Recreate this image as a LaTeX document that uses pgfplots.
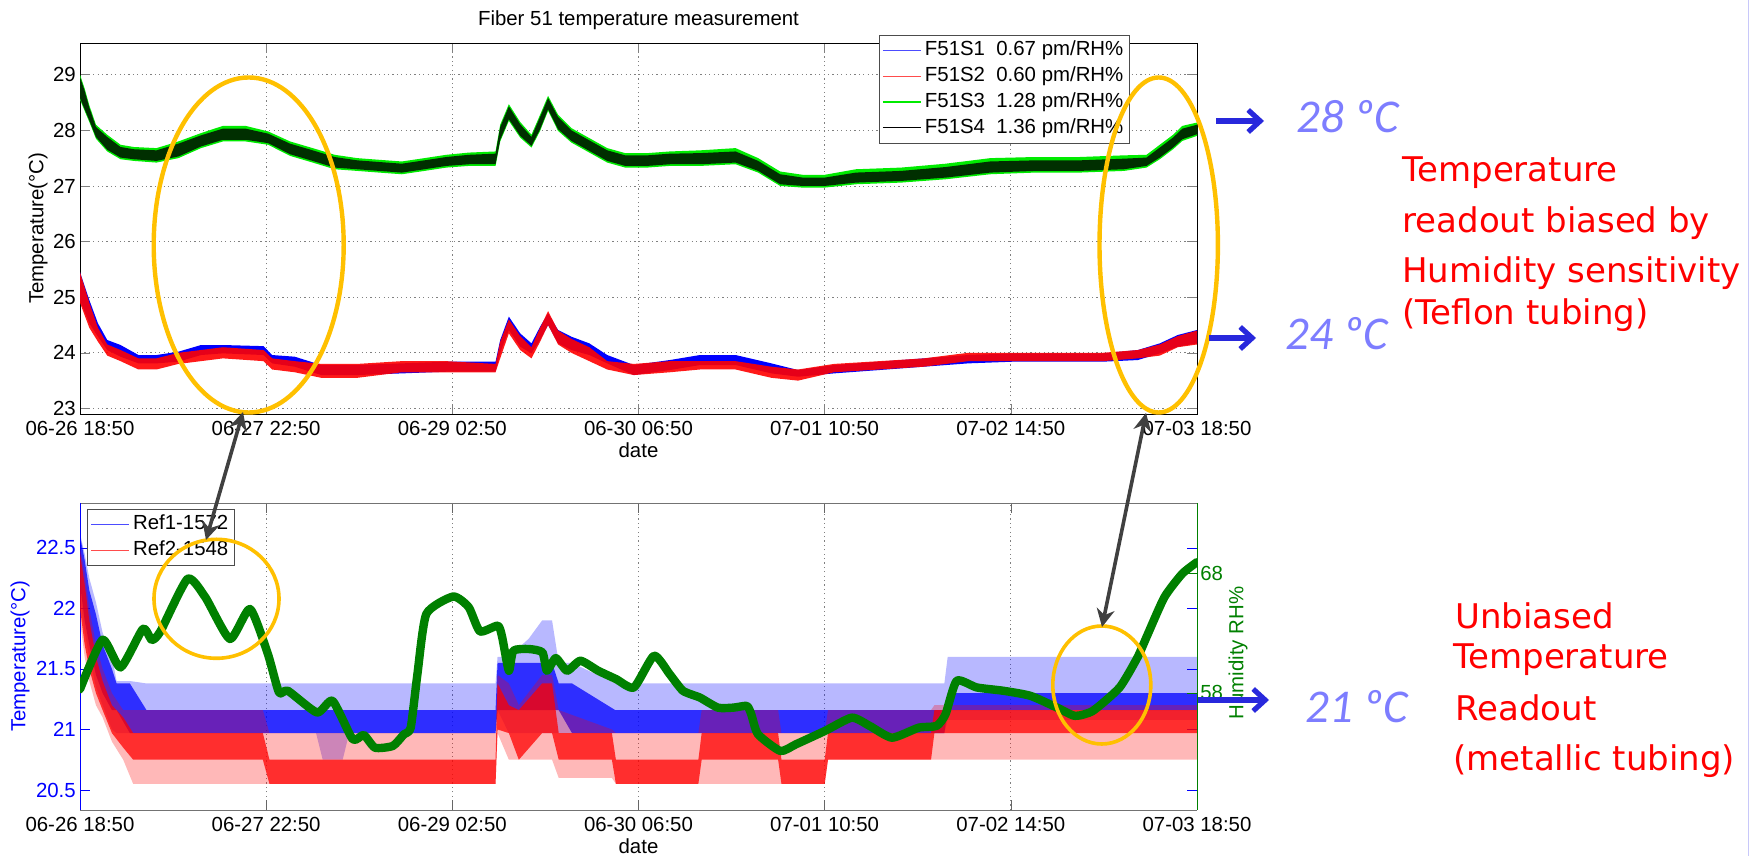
\documentclass[border=0pt]{standalone}
\usepackage{fontspec}
\setmainfont{Liberation Sans}
\newfontfamily\notefont{DejaVu Sans}
\newfontfamily\valfont{Carlito}
\usepackage{pgfplots}
\usepgfplotslibrary{fillbetween}
\usetikzlibrary{arrows.meta}
\pgfplotsset{compat=1.18}

\definecolor{mlgreen}{RGB}{0,128,0}
\definecolor{mlbrightgreen}{RGB}{0,235,0}
\definecolor{ringgold}{RGB}{255,192,0}
\definecolor{arrowgray}{RGB}{64,64,64}
\definecolor{notered}{RGB}{255,0,0}
\definecolor{valblue}{RGB}{125,125,255}
\definecolor{arrowblue}{RGB}{40,40,220}
\definecolor{edgelav}{RGB}{200,200,250}

\newcommand\mlfont{\fontsize{10.2}{12}\selectfont}
\newcommand\notesize{\notefont\fontsize{17}{20}\selectfont}
\newcommand\valsize{\valfont\itshape\fontsize{23.5}{28}\selectfont}

% red note line
\newcommand\notetext[3]{%
  \node[anchor=base west, inner sep=0pt, text=notered, font=\notesize] at (#1,#2) {#3};}

\tikzset{
  mllegend/.style={
    font=\mlfont, draw=black!70, fill=white, inner xsep=1.5pt, inner ysep=1.1pt,
    nodes={inner sep=1.6pt, text height=7.5pt, text depth=2.2pt},
  },
}

\pgfplotsset{
  every axis title shift=0pt,
  mlaxis/.style={
    scale only axis, width=558.5pt,
    xmin=0, xmax=168,
    xtick={0,28,56,84,112,140,168},
    xticklabels={06-26 18:50,06-27 22:50,06-29 02:50,06-30 06:50,07-01 10:50,07-02 14:50,07-03 18:50},
    tick align=inside, major tick length=5pt,
    tick label style={font=\mlfont},
    label style={font=\mlfont},
    /pgf/number format/assume math mode=true,
    yticklabel style={xshift=1.4pt},
    grid style={black!50, line width=0.4pt, dash pattern=on 0.6pt off 1.6pt},
    legend cell align=left,
    legend image post style={xscale=1.12},
  },
}

% sensor readings on the Teflon-tubed fibre: envelope of each trace (hours since 06-26 18:50)
\pgfplotstableread{
t     lo     hi
0.0   24.95  25.45
1.4   24.53  24.95
2.7   24.29  24.53
4.1   24.05  24.23
6.1   23.93  24.14
8.8   23.81  23.96
11.5  23.81  23.96
14.8  23.84  24.02
18.2  23.96  24.14
21.5  23.99  24.14
27.6  23.96  24.12
28.9  23.81  23.96
32.3  23.75  23.93
36.3  23.60  23.78
41.7  23.60  23.78
48.4  23.63  23.81
55.1  23.66  23.84
62.5  23.66  23.84
63.2  24.00  24.23
64.5  24.41  24.65
66.2  24.11  24.35
67.9  23.99  24.17
69.2  24.23  24.47
70.4  24.50  24.71
71.9  24.17  24.41
73.9  24.05  24.29
76.6  23.96  24.17
79.3  23.81  23.96
83.3  23.60  23.78
88.7  23.69  23.87
93.25 23.78  23.96
98.6  23.78  23.96
104.0 23.63  23.81
108.0 23.57  23.69
113.4 23.63  23.78
120.2 23.69  23.84
126.9 23.75  23.90
133.6 23.81  23.96
140.3 23.84  23.99
147.0 23.84  23.99
153.8 23.84  23.99
159.1 23.87  24.05
162.4 23.99  24.17
165.1 24.11  24.32
168.0 24.17  24.41
}\sOne

\pgfplotstableread{
t     lo     hi
0.0   24.90  25.45
1.4   24.45  24.90
2.7   24.20  24.45
4.1   23.95  24.15
6.1   23.85  24.05
8.8   23.70  23.90
11.5  23.70  23.90
14.8  23.80  24.00
18.2  23.85  24.05
21.5  23.90  24.10
27.6  23.85  24.05
28.9  23.70  23.90
32.3  23.65  23.85
36.3  23.55  23.80
41.7  23.55  23.80
48.4  23.65  23.85
55.1  23.65  23.85
62.5  23.65  23.80
63.2  23.90  24.20
64.5  24.35  24.60
66.2  24.05  24.30
67.9  23.90  24.10
69.2  24.20  24.45
70.4  24.50  24.75
71.9  24.15  24.40
73.9  24.00  24.25
76.6  23.85  24.10
79.3  23.70  23.85
83.3  23.60  23.80
88.7  23.65  23.85
93.25 23.70  23.85
98.6  23.70  23.85
104.0 23.55  23.75
108.0 23.50  23.70
113.4 23.65  23.80
120.2 23.70  23.85
126.9 23.75  23.90
133.6 23.85  24.00
140.3 23.85  24.00
147.0 23.85  24.00
153.8 23.85  24.00
159.1 23.90  24.05
162.4 23.95  24.15
165.1 24.10  24.30
168.0 24.15  24.40
}\sTwo

% S3 (green) and S4 (black) envelopes
\pgfplotstableread{
t     glo    ghi    klo    khi
0.0   28.55  29.00  28.58  28.96
0.7   28.35  28.75  28.38  28.71
1.4   28.15  28.45  28.18  28.41
2.4   27.85  28.10  27.88  28.06
4.1   27.62  27.92  27.65  27.88
6.1   27.48  27.74  27.51  27.70
8.1   27.45  27.70  27.48  27.66
11.5  27.42  27.68  27.45  27.64
14.8  27.50  27.80  27.53  27.76
18.2  27.68  27.95  27.71  27.91
21.5  27.80  28.08  27.83  28.03
24.9  27.80  28.08  27.83  28.03
28.3  27.74  27.98  27.77  27.94
31.6  27.54  27.80  27.57  27.76
35.0  27.42  27.68  27.45  27.64
38.3  27.30  27.56  27.33  27.52
41.7  27.27  27.50  27.30  27.46
45.0  27.24  27.47  27.27  27.43
48.4  27.21  27.44  27.24  27.40
51.8  27.27  27.50  27.30  27.46
55.1  27.33  27.56  27.36  27.52
58.5  27.36  27.60  27.39  27.56
62.5  27.36  27.62  27.39  27.58
63.2  27.80  28.10  27.83  28.06
64.5  28.17  28.47  28.20  28.43
66.2  27.87  28.15  27.90  28.11
67.9  27.69  27.92  27.72  27.88
69.2  27.99  28.28  28.02  28.24
70.4  28.35  28.62  28.38  28.58
71.9  27.99  28.28  28.02  28.24
73.9  27.78  28.04  27.81  28.00
76.6  27.60  27.86  27.63  27.82
79.3  27.42  27.68  27.45  27.64
82.0  27.33  27.59  27.36  27.55
85.3  27.33  27.59  27.36  27.55
88.7  27.36  27.62  27.39  27.58
93.25 27.36  27.64  27.39  27.59
98.6  27.39  27.68  27.42  27.62
102.0 27.24  27.50  27.27  27.45
105.3 27.00  27.26  27.03  27.21
108.7 26.97  27.20  27.00  27.15
112.0 26.97  27.20  27.00  27.15
116.7 27.03  27.30  27.06  27.24
123.5 27.06  27.33  27.09  27.27
130.2 27.12  27.40  27.15  27.34
136.9 27.21  27.50  27.24  27.44
143.6 27.24  27.52  27.27  27.46
150.3 27.24  27.52  27.27  27.46
157.0 27.27  27.55  27.30  27.49
160.4 27.33  27.56  27.36  27.51
162.4 27.48  27.74  27.51  27.69
164.4 27.66  27.92  27.69  27.87
165.8 27.81  28.08  27.84  28.03
168.0 27.90  28.14  27.93  28.10
}\sThreeFour

% reference gratings in metallic tubing: dense band (lo/hi) and spike range (slo/shi)
\pgfplotstableread{
t     lo     hi     slo    shi
0.0   22.20  22.60  22.10  22.62
0.7   21.90  22.40  21.80  22.45
1.4   21.70  22.15  21.60  22.25
2.4   21.45  21.95  21.35  22.05
3.4   21.30  21.70  21.20  21.80
4.8   21.16  21.50  21.00  21.60
5.5   21.16  21.38  20.97  21.40
7.5   20.97  21.38  20.97  21.40
10.0  20.97  21.16  20.97  21.38
35.5  20.97  21.16  20.97  21.38
36.5  20.97  21.16  20.75  21.38
39.5  20.97  21.16  20.75  21.38
40.5  20.97  21.16  20.97  21.38
62.5  20.97  21.16  20.97  21.38
62.8  21.16  21.55  21.16  21.60
64.5  21.16  21.55  20.97  21.60
67.5  21.16  21.55  20.97  21.75
69.5  21.16  21.55  20.97  21.90
71.0  21.16  21.55  20.97  21.90
72.0  21.16  21.38  20.97  21.55
74.0  20.97  21.38  20.97  21.55
80.5  20.97  21.16  20.97  21.38
130.0 20.97  21.16  20.97  21.38
130.5 21.16  21.30  21.08  21.60
168.0 21.16  21.30  21.08  21.60
}\refOne

\pgfplotstableread{
t     lo     hi     slo    shi
0.0   22.00  22.45  21.90  22.50
0.7   21.70  22.20  21.60  22.30
1.4   21.50  21.90  21.40  22.00
2.4   21.30  21.60  21.20  21.70
3.4   21.16  21.40  21.10  21.50
4.8   20.97  21.20  20.90  21.30
6.5   20.85  21.10  20.75  21.16
8.0   20.75  20.97  20.55  21.16
27.5  20.75  20.97  20.55  21.16
28.5  20.55  20.75  20.55  20.97
62.5  20.55  20.75  20.55  20.97
62.8  21.00  21.38  20.97  21.45
64.5  20.97  21.20  20.75  21.38
66.0  20.75  21.16  20.75  21.20
69.5  20.97  21.38  20.75  21.45
71.0  20.97  21.38  20.75  21.45
72.0  20.75  20.97  20.60  21.16
80.0  20.75  20.97  20.60  21.00
80.6  20.55  20.75  20.55  20.97
93.0  20.55  20.75  20.55  20.97
93.5  20.75  20.97  20.55  21.16
105.0 20.75  20.97  20.55  21.16
105.5 20.55  20.75  20.55  20.97
112.0 20.55  20.75  20.55  20.97
112.5 20.75  20.97  20.75  21.16
128.0 20.75  20.97  20.75  21.16
128.5 20.97  21.16  20.75  21.20
168.0 20.97  21.16  20.75  21.20
}\refTwo

% relative humidity
\pgfplotstableread{
t      rh
0.0    58.30
3.4    62.45
6.1    60.13
9.45   63.35
10.8   62.43
12.1   63.15
16.17  67.55
18.86  66.00
22.55  62.51
25.57  65.03
28.26  61.25
29.93  58.03
31.27  58.17
35.64  56.35
37.99  57.33
41.01  54.11
42.68  54.47
44.37  53.40
47.06  53.55
48.73  54.53
49.74  55.08
50.75  59.57
52.09  64.61
56.12  66.07
58.47  65.17
60.15  63.15
62.84  63.63
63.5   62.65
64.5   59.85
65.18  61.53
67.53  61.67
69.55  61.39
70.22  59.85
71.56  60.91
73.25  59.85
75.26  60.69
77.94  59.85
80.63  59.15
83.31  58.45
86.33  61.11
88.68  59.57
90.69  58.17
93.25  57.60
95.94  56.76
98.29  56.76
100.3  56.90
100.96 56.20
101.97 54.53
105.33 53.13
107.69 53.69
112.05 54.81
116.08 55.92
118.76 55.23
122.12 54.24
126.15 55.08
128.84 55.23
130.18 56.21
131.86 59.01
134.88 58.45
138.91 58.17
142.94 57.75
146.96 56.76
149.65 56.07
152.34 56.49
156.36 58.45
159.05 60.97
160.39 62.65
163.08 66.00
165.76 67.97
167.98 68.95
}\humid

\begin{document}
\begin{tikzpicture}

% ---------------- upper panel: Fiber 51 sensors ----------------
\begin{axis}[mlaxis,
  at={(40pt,221pt)}, anchor=south west, height=185.5pt,
  ymin=22.9, ymax=29.57, ytick={23,24,25,26,27,28,29},
  grid=major,
  title={Fiber 51 temperature measurement},
  title style={at={(axis description cs:0.5,1.062)}, anchor=center, font=\mlfont},
  xlabel={date},
  xlabel style={at={(axis description cs:0.5,-0.097)}, anchor=center},
  ylabel={Temperature(°C)},
  ylabel style={at={(axis description cs:-0.0376,0.5)}, anchor=center},
  legend style={mllegend, at={(axis description cs:0.94,1.0216)}, anchor=north east},
]
\addplot[draw=none, name path=s1hi, forget plot] table[x=t, y=hi] {\sOne};
\addplot[draw=none, name path=s1lo, forget plot] table[x=t, y=lo] {\sOne};
\addplot[draw=none, name path=s2hi, forget plot] table[x=t, y=hi] {\sTwo};
\addplot[draw=none, name path=s2lo, forget plot] table[x=t, y=lo] {\sTwo};
\addplot[draw=none, name path=s3hi, forget plot] table[x=t, y=ghi] {\sThreeFour};
\addplot[draw=none, name path=s3lo, forget plot] table[x=t, y=glo] {\sThreeFour};
\addplot[draw=none, name path=s4hi, forget plot] table[x=t, y=khi] {\sThreeFour};
\addplot[draw=none, name path=s4lo, forget plot] table[x=t, y=klo] {\sThreeFour};
\addplot[blue, forget plot] fill between[of=s1hi and s1lo];
\addplot[red, fill opacity=0.9, forget plot] fill between[of=s2hi and s2lo];
\addplot[mlbrightgreen, forget plot] fill between[of=s3hi and s3lo];
\addplot[black, fill opacity=0.8, forget plot] fill between[of=s4hi and s4lo];

\addlegendimage{blue!70!white, line width=0.6pt}
\addlegendentry{F51S1\ \ 0.67 pm/RH\%}
\addlegendimage{red!70!white, line width=0.6pt}
\addlegendentry{F51S2\ \ 0.60 pm/RH\%}
\addlegendimage{mlbrightgreen, line width=0.6pt}
\addlegendentry{F51S3\ \ 1.28 pm/RH\%}
\addlegendimage{black, line width=0.6pt}
\addlegendentry{F51S4\ \ 1.36 pm/RH\%}
\end{axis}

% ---------------- lower panel: reference gratings ----------------
\begin{axis}[mlaxis,
  at={(40pt,23pt)}, anchor=south west, height=153.5pt,
  ymin=20.335, ymax=22.87, ytick={20.5,21,21.5,22,22.5},
  xmajorgrids,
  separate axis lines,
  every outer x axis line/.append style={black!55},
  every outer y axis line/.append style={blue},
  y tick style={blue}, x tick style={black!60},
  yticklabel style={blue},
  xlabel={date},
  xlabel style={at={(axis description cs:0.5,-0.1173)}, anchor=center},
  ylabel={Temperature(°C)},
  ylabel style={blue, at={(axis description cs:-0.0537,0.5)}, anchor=center},
  legend style={mllegend, at={(axis description cs:0.0063,0.9805)}, anchor=north west},
]
\addplot[draw=none, name path=r1shi, forget plot] table[x=t, y=shi] {\refOne};
\addplot[draw=none, name path=r1slo, forget plot] table[x=t, y=slo] {\refOne};
\addplot[draw=none, name path=r1hi, forget plot] table[x=t, y=hi] {\refOne};
\addplot[draw=none, name path=r1lo, forget plot] table[x=t, y=lo] {\refOne};
\addplot[draw=none, name path=r2shi, forget plot] table[x=t, y=shi] {\refTwo};
\addplot[draw=none, name path=r2slo, forget plot] table[x=t, y=slo] {\refTwo};
\addplot[draw=none, name path=r2hi, forget plot] table[x=t, y=hi] {\refTwo};
\addplot[draw=none, name path=r2lo, forget plot] table[x=t, y=lo] {\refTwo};
\addplot[blue, fill opacity=0.28, forget plot] fill between[of=r1shi and r1slo];
\addplot[blue, fill opacity=0.75, forget plot] fill between[of=r1hi and r1lo];
\addplot[red, fill opacity=0.28, forget plot] fill between[of=r2shi and r2slo];
\addplot[red, fill opacity=0.75, forget plot] fill between[of=r2hi and r2lo];

\addlegendimage{blue!70!white, line width=0.6pt}
\addlegendentry{Ref1-1572}
\addlegendimage{red!70!white, line width=0.6pt}
\addlegendentry{Ref2-1548}
\end{axis}

% humidity on the right-hand scale
\begin{axis}[
  at={(40pt,23pt)}, anchor=south west, scale only axis,
  width=558.5pt, height=153.5pt,
  xmin=0, xmax=168, ymin=48.18, ymax=73.91,
  axis x line=none, axis y line*=right,
  ytick={58,68}, tick align=inside, major tick length=5pt,
  y axis line style={mlgreen}, y tick style={mlgreen},
  /pgf/number format/assume math mode=true,
  yticklabel style={mlgreen, font=\mlfont, xshift=-1.9pt},
  ylabel={Humidity RH\%},
  ylabel style={mlgreen, font=\mlfont, at={(axis description cs:1.0367,0.511)}, anchor=center},
]
\addplot[mlgreen, line width=4.2pt, smooth, tension=0.35, line join=round, line cap=round] table[x=t, y=rh] {\humid};
\end{axis}

% ---------------- annotations ----------------
\begin{scope}[shift={(0pt,428pt)}, x=0.5pt, y=-0.5pt]
  \draw[ringgold, line width=2.2pt] (248.7,245) ellipse [x radius=47.5pt, y radius=83.75pt];
  \draw[ringgold, line width=2.2pt] (1158.7,245) ellipse [x radius=29.6pt, y radius=83.75pt];
  \draw[ringgold, line width=1.8pt] (216.5,598.8) ellipse [x radius=31.25pt, y radius=29.75pt];
  \draw[ringgold, line width=1.8pt] (1101.8,685) ellipse [x radius=24.5pt, y radius=29.5pt];

  \draw[arrowgray, line width=1.8pt, {Stealth[length=9pt,width=9pt]}-{Stealth[length=9pt,width=9pt]}] (243,412) -- (206,540);
  \draw[arrowgray, line width=1.8pt, {Stealth[length=9pt,width=9pt]}-{Stealth[length=9pt,width=9pt]}] (1146,413) -- (1102,627);

  \draw[arrowblue, line width=2.6pt, -{Straight Barb[length=6pt,width=11pt]}] (1216,121) -- (1264,121);
  \draw[arrowblue, line width=2.6pt, -{Straight Barb[length=6pt,width=11pt]}] (1209,338) -- (1256,338);
  \draw[arrowblue, line width=2.6pt, -{Straight Barb[length=6pt,width=11pt]}] (1198,700) -- (1269,700);

  \node[anchor=base west, inner sep=0pt, text=valblue, font=\valsize] at (1296,133) {28 ºC};
  \node[anchor=base west, inner sep=0pt, text=valblue, font=\valsize] at (1285,350) {24 ºC};
  \node[anchor=base west, inner sep=0pt, text=valblue, font=\valsize] at (1305,723) {21 ºC};

  \notetext{1402}{182}{Temperature}
  \notetext{1402}{233}{readout biased by}
  \notetext{1402}{283}{Humidity sensitivity}
  \notetext{1402}{325}{(Teflon tubing)}
  \notetext{1455}{628.5}{Unbiased}
  \notetext{1453}{669}{Temperature}
  \notetext{1455}{721}{Readout}
  \notetext{1453}{771}{(metallic tubing)}

  \draw[edgelav, line width=0.8pt] (1748.5,0) -- (1748.5,856);
\end{scope}

% fixed page frame
\pgfresetboundingbox
\path[use as bounding box] (0pt,0pt) rectangle (875pt,428pt);
\end{tikzpicture}
\end{document}
